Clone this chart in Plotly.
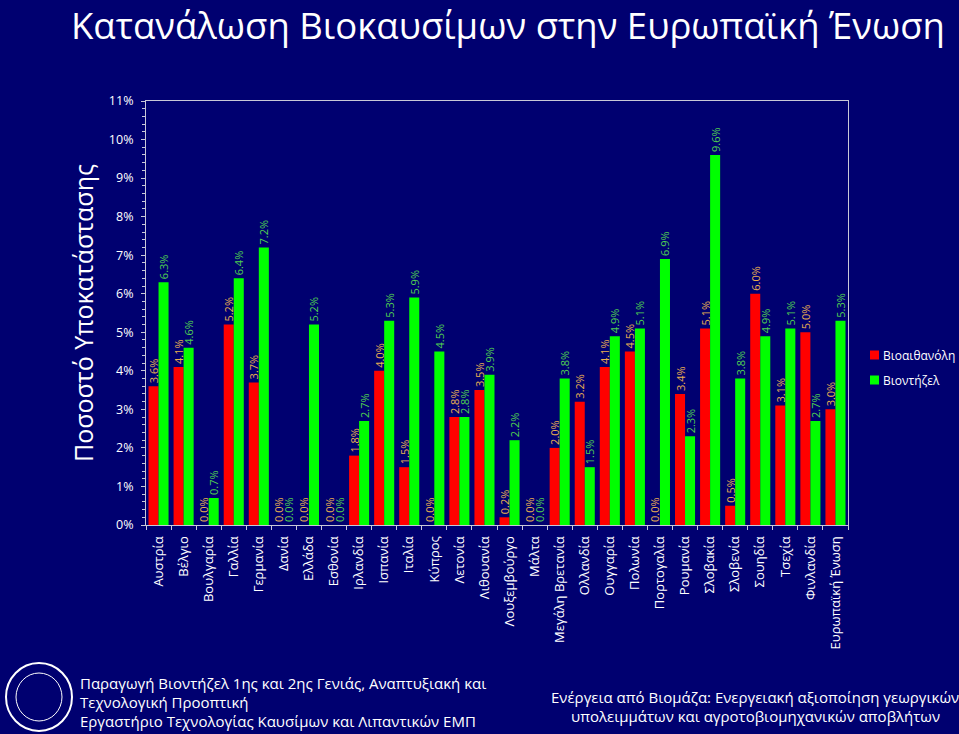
import plotly.graph_objects as go

countries = ["Αυστρία", "Βέλγιο", "Βουλγαρία", "Γαλλία", "Γερμανία", "Δανία", "Ελλάδα",
             "Εσθονία", "Ιρλανδία", "Ισπανία", "Ιταλία", "Κύπρος", "Λετονία", "Λιθουανία",
             "Λουξεμβούργο", "Μάλτα", "Μεγάλη Βρετανία", "Ολλανδία", "Ουγγαρία", "Πολωνία",
             "Πορτογαλία", "Ρουμανία", "Σλοβακία", "Σλοβενία", "Σουηδία", "Τσεχία",
             "Φινλανδία", "Ευρωπαϊκή Ένωση"]
bioethanol = [3.6, 4.1, 0.0, 5.2, 3.7, 0.0, 0.0, 0.0, 1.8, 4.0, 1.5, 0.0, 2.8, 3.5,
              0.2, 0.0, 2.0, 3.2, 4.1, 4.5, 0.0, 3.4, 5.1, 0.5, 6.0, 3.1, 5.0, 3.0]
biodiesel = [6.3, 4.6, 0.7, 6.4, 7.2, 0.0, 5.2, 0.0, 2.7, 5.3, 5.9, 4.5, 2.8, 3.9,
             2.2, 0.0, 3.8, 1.5, 4.9, 5.1, 6.9, 2.3, 9.6, 3.8, 4.9, 5.1, 2.7, 5.3]
series_names = ["Βιοαιθανόλη", "Βιοντήζελ"]

BG = "#000070"
FONT = "Open Sans"
RED = "#ff0000"
GREEN = "#00ff00"

# plot area in pixels
L, R, T, B = 146, 848, 101, 525
PW, PH = R - L, B - T


def px(x):
    return (x - L) / PW


def py(y):
    return (B - y) / PH


fig = go.Figure()
fig.add_trace(go.Bar(
    x=countries, y=[v / 100 for v in bioethanol], name=series_names[0],
    marker=dict(color=RED, line=dict(width=0)),
    text=[f"{v:.1f}%" for v in bioethanol], textposition="outside", textangle=-90,
    textfont=dict(color="#e8b050", size=11, family=FONT), cliponaxis=False,
    constraintext="none",
))
fig.add_trace(go.Bar(
    x=countries, y=[v / 100 for v in biodiesel], name=series_names[1],
    marker=dict(color=GREEN, line=dict(width=0)),
    text=[f"{v:.1f}%" for v in biodiesel], textposition="outside", textangle=-90,
    textfont=dict(color="#50d050", size=11, family=FONT), cliponaxis=False,
    constraintext="none",
))

fig.update_layout(
    width=959, height=734,
    paper_bgcolor=BG, plot_bgcolor=BG,
    margin=dict(l=L, r=959 - R, t=T, b=734 - B, autoexpand=False),
    barmode="group", bargap=0.2, bargroupgap=0,
    font=dict(family=FONT, color="white"),
    showlegend=False,
    title=dict(text="Κατανάλωση Βιοκαυσίμων στην Ευρωπαϊκή Ένωση",
               x=508 / 959, xanchor="center", y=1 - 26 / 734, yanchor="middle",
               font=dict(size=36.5, color="white", family=FONT)),
)
fig.update_yaxes(
    range=[0, 0.11], dtick=0.01, tickformat=".0%", automargin=False,
    tickfont=dict(size=12.5, color="white"), ticklabelstandoff=5,
    showgrid=False, zeroline=False,
    showline=True, linecolor="#c8c8d8", linewidth=1, mirror=True,
    ticks="outside", ticklen=4, tickcolor="#c8c8d8",
    minor=dict(dtick=0.002, ticks="outside", ticklen=3, tickcolor="#c8c8d8"),
    title=dict(text="Ποσοστό Υποκατάστασης", font=dict(size=25, color="white"), standoff=8),
)
fig.update_xaxes(
    tickangle=-90, tickfont=dict(size=13, color="white"), automargin=False,
    ticklabelstandoff=5,
    showgrid=False, showline=True, linecolor="#c8c8d8", linewidth=1, mirror=True,
    ticks="outside", ticklen=4, tickcolor="#c8c8d8", tickson="boundaries",
)

# manual legend
for i, (name, col) in enumerate(zip(series_names, [RED, GREEN])):
    yc = 355 + i * 25
    fig.add_shape(type="rect", xref="paper", yref="paper",
                  x0=px(870), x1=px(879), y0=py(yc + 4.5), y1=py(yc - 4.5),
                  fillcolor=col, line=dict(width=0))
    fig.add_annotation(x=px(881), y=py(yc), xref="paper", yref="paper", text=name,
                       showarrow=False, xanchor="left", yanchor="middle",
                       font=dict(size=12, color="white"))

# footer texts
footer_left = ["Παραγωγή Βιοντήζελ 1ης και 2ης Γενιάς, Αναπτυξιακή και",
               "Τεχνολογική Προοπτική",
               "Εργαστήριο Τεχνολογίας Καυσίμων και Λιπαντικών ΕΜΠ"]
for i, line in enumerate(footer_left):
    fig.add_annotation(x=px(78), y=py(683 + i * 19), xref="paper", yref="paper",
                       text=line, showarrow=False, xanchor="left", yanchor="middle",
                       font=dict(size=15, color="white"))
footer_right = ["Ενέργεια από Βιομάζα: Ενεργειακή αξιοποίηση γεωργικών",
                "υπολειμμάτων και αγροτοβιομηχανικών αποβλήτων"]
for i, line in enumerate(footer_right):
    fig.add_annotation(x=px(755), y=py(697 + i * 19), xref="paper", yref="paper",
                       text=line, showarrow=False, xanchor="center", yanchor="middle",
                       font=dict(size=15, color="white"))

# logo placeholder (seal)
fig.add_shape(type="circle", xref="paper", yref="paper",
              x0=px(6), x1=px(72), y0=py(731), y1=py(663),
              line=dict(color="white", width=2), fillcolor=BG)
fig.add_shape(type="circle", xref="paper", yref="paper",
              x0=px(16), x1=px(62), y0=py(721), y1=py(673),
              line=dict(color="white", width=1))

fig.write_html("out.html", config={"displayModeBar": False},
               post_script="document.body.style.margin='0';document.body.style.overflow='hidden';"
                           "document.body.style.background='" + BG + "';")
